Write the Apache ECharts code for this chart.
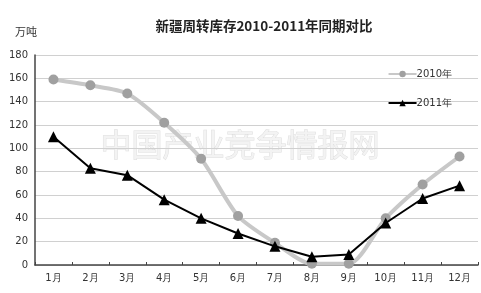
<!DOCTYPE html>
<html><head><meta charset="utf-8">
<script src="https://cdn.jsdelivr.net/npm/echarts@6/dist/echarts.min.js"></script>
<style>html,body{margin:0;padding:0;background:#fff}#c{width:481px;height:293px}</style>
</head><body><div id="c"></div>
<script>
var categories = ['1月','2月','3月','4月','5月','6月','7月','8月','9月','10月','11月','12月'];
var series2010 = [159, 154, 147, 122, 91, 42, 19, 1, 1, 40, 69, 93];
var series2011 = [110, 83, 77, 56, 40, 27, 16, 7, 9, 36, 57, 68];
var yTicks = [0, 20, 40, 60, 80, 100, 120, 140, 160, 180];
var fontCJK = '"Noto Sans CJK SC", "Noto Sans", sans-serif';
var chart = echarts.init(document.getElementById('c'), null, {renderer: 'canvas'});
chart.setOption({
  animation: false,
  backgroundColor: '#fff',
  title: {
    text: '新疆周转库存2010-2011年同期对比',
    left: 259, top: 14, textAlign: 'center',
    textStyle: {fontFamily: fontCJK, fontSize: 13.5, fontWeight: 'bold', color: '#222'}
  },
  graphic: [
    {type: 'text', left: 15, top: 26, style: {text: '万吨', font: '11px ' + fontCJK, fill: '#333'}},
    {type: 'text', left: 100, top: 128, z: 0, silent: true,
     style: {text: '中国产业竞争情报网', font: '31px ' + fontCJK, fill: '#f3f3f3', stroke: '#dedede', lineWidth: 1}}
  ],
  legend: {
    orient: 'vertical', right: 24, top: 64, itemGap: 19, itemWidth: 28, itemHeight: 8,
    textStyle: {fontFamily: '"DejaVu Sans", sans-serif', fontSize: 10, color: '#333', padding: [0,0,0,-5]},
    data: ['2010年', '2011年']
  },
  grid: {left: 35, right: 3, top: 55, bottom: 28, containLabel: false},
  xAxis: {
    type: 'category', data: categories, boundaryGap: true,
    axisLine: {lineStyle: {color: '#444', width: 1.5}},
    axisTick: {show: true, length: 3, inside: true, lineStyle: {color: '#444'}},
    axisLabel: {fontFamily: '"DejaVu Sans", sans-serif', fontSize: 10, color: '#333', margin: 8},
    splitLine: {show: false}
  },
  yAxis: {
    type: 'value', min: 0, max: 180, interval: 20,
    axisLine: {show: true, lineStyle: {color: '#444', width: 1.5}},
    axisTick: {show: false},
    axisLabel: {fontFamily: '"DejaVu Sans", sans-serif', fontSize: 10, color: '#333', margin: 7,
      formatter: function (v) { return yTicks.indexOf(v) >= 0 ? String(v) : ''; }},
    splitLine: {lineStyle: {color: '#d0d0d0', width: 1}}
  },
  series: [
    {
      name: '2010年', type: 'line', data: series2010, smooth: 0.25,
      symbol: 'circle', symbolSize: 10,
      lineStyle: {color: '#c8c8c8', width: 4},
      itemStyle: {color: '#a0a0a0'},
      z: 3
    },
    {
      name: '2011年', type: 'line', data: series2011, smooth: false,
      symbol: 'triangle', symbolSize: 11,
      lineStyle: {color: '#000', width: 2},
      itemStyle: {color: '#000'},
      z: 4
    }
  ]
});
</script></body></html>
